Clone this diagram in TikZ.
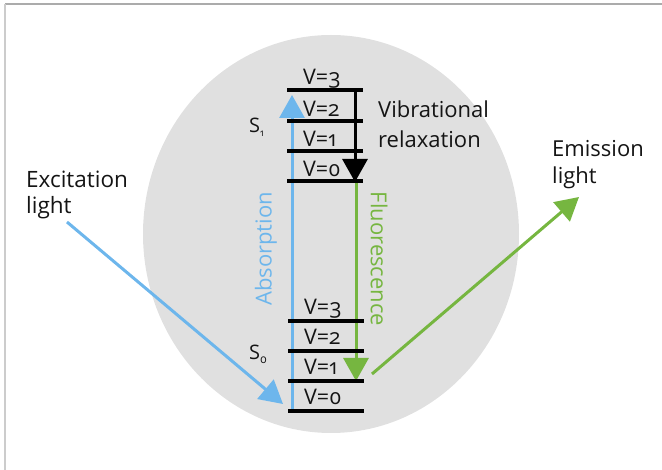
\documentclass[tikz,border=0pt]{standalone}
\usepackage{fontspec}
\setmainfont{Open Sans}[Numbers=OldStyle]
\usetikzlibrary{arrows.meta}
\definecolor{bg}{HTML}{E0E0E0}
\definecolor{absblue}{HTML}{6DB6EC}
\definecolor{flgreen}{HTML}{76B640}
\definecolor{txt}{HTML}{141414}
\tikzset{
  level/.style={line width=3.5pt, black},
  vlab/.style={anchor=base west, inner sep=0, text=txt, font=\fontsize{21.5}{24}\selectfont},
  biglab/.style={anchor=north west, inner sep=0, align=left, text=txt},
  tri/.style={-{Triangle[length=23pt,width=25pt]}},
  bluearrow/.style={tri, line width=3pt, absblue},
  greenarrow/.style={tri, line width=3pt, flgreen},
  blackarrow/.style={tri, line width=3pt, black},
}
\begin{document}
\begin{tikzpicture}[x=1pt,y=-1pt]
\useasboundingbox (0,0) rectangle (662,470);
% frame
\draw[line width=1.5pt, color=black!33] (5,4) -- (662,4);
\draw[line width=1.5pt, color=black!20] (5,4) -- (5,470);
% background ellipse
\fill[bg] (331,234) ellipse [x radius=188, y radius=199];
% coordinates of levels
\foreach \n/\y in {a/90,b/121,c/151,d/181}{
  \coordinate (s1\n L) at (287,\y);
  \coordinate (s1\n R) at (363,\y);
}
\foreach \n/\y in {a/321,b/351,c/381,d/411}{
  \coordinate (s0\n L) at (288,\y);
  \coordinate (s0\n R) at (364,\y);
}
% arrows inside
\coordinate (absBot) at (292,411);
\coordinate (absTop) at (292,95);
\draw[bluearrow] (absBot) -- (absTop);
\coordinate (vrTop) at (355,90);
\coordinate (vrBot) at (355,182);
\draw[blackarrow] (vrTop) -- (vrBot);
\coordinate (flTop) at (356,181);
\coordinate (flBot) at (356,381);
\draw[greenarrow] (flTop) -- (flBot);
% level lines
\foreach \n in {a,b,c,d}{
  \draw[level] (s1\n L) -- (s1\n R);
  \draw[level] (s0\n L) -- (s0\n R);
}
% level labels
\node[vlab] (l13) at (303,85) {V=3};
\node[vlab] (l12) at (303,117) {V=2};
\node[vlab] (l11) at (303,147) {V=1};
\node[vlab] (l10) at (303,177) {V=0};
\node[vlab] (l03) at (304,315) {V=3};
\node[vlab] (l02) at (304,345) {V=2};
\node[vlab] (l01) at (304,375) {V=1};
\node[vlab] (l00) at (304,405) {V=0};
% state labels
\node[vlab, font=\fontsize{20}{22}\selectfont] (S1) at (249,133) {S\raisebox{-4pt}{\fontsize{10}{10}\selectfont 1}};
\node[vlab, font=\fontsize{20}{22}\selectfont] (S0) at (249,360) {S\raisebox{-4pt}{\fontsize{12}{12}\selectfont 0}};
% rotated labels
\node[inner sep=0, rotate=90, text=absblue, font=\fontsize{22}{24}\selectfont] (abs) at (266,249) {Absorption};
\node[inner sep=0, rotate=-90, text=flgreen, font=\fontsize{22}{24}\selectfont] (flu) at (379,259) {Fluorescence};
% side labels
\node[biglab, font=\fontsize{22}{30}\selectfont] (vib) at (378,101) {Vibrational\\relaxation};
\node[biglab, font=\fontsize{22.5}{26}\selectfont] (exc) at (26,171) {Excitation\\light};
\node[biglab, font=\fontsize{22}{27}\selectfont] (emi) at (552,140) {Emission\\light};
% excitation and emission arrows
\coordinate (excStart) at (67,222);
\coordinate (excEnd) at (283,404);
\draw[bluearrow] (excStart) -- (excEnd);
\coordinate (emiStart) at (372,374);
\coordinate (emiEnd) at (579,197);
\draw[greenarrow] (emiStart) -- (emiEnd);
\end{tikzpicture}
\end{document}
